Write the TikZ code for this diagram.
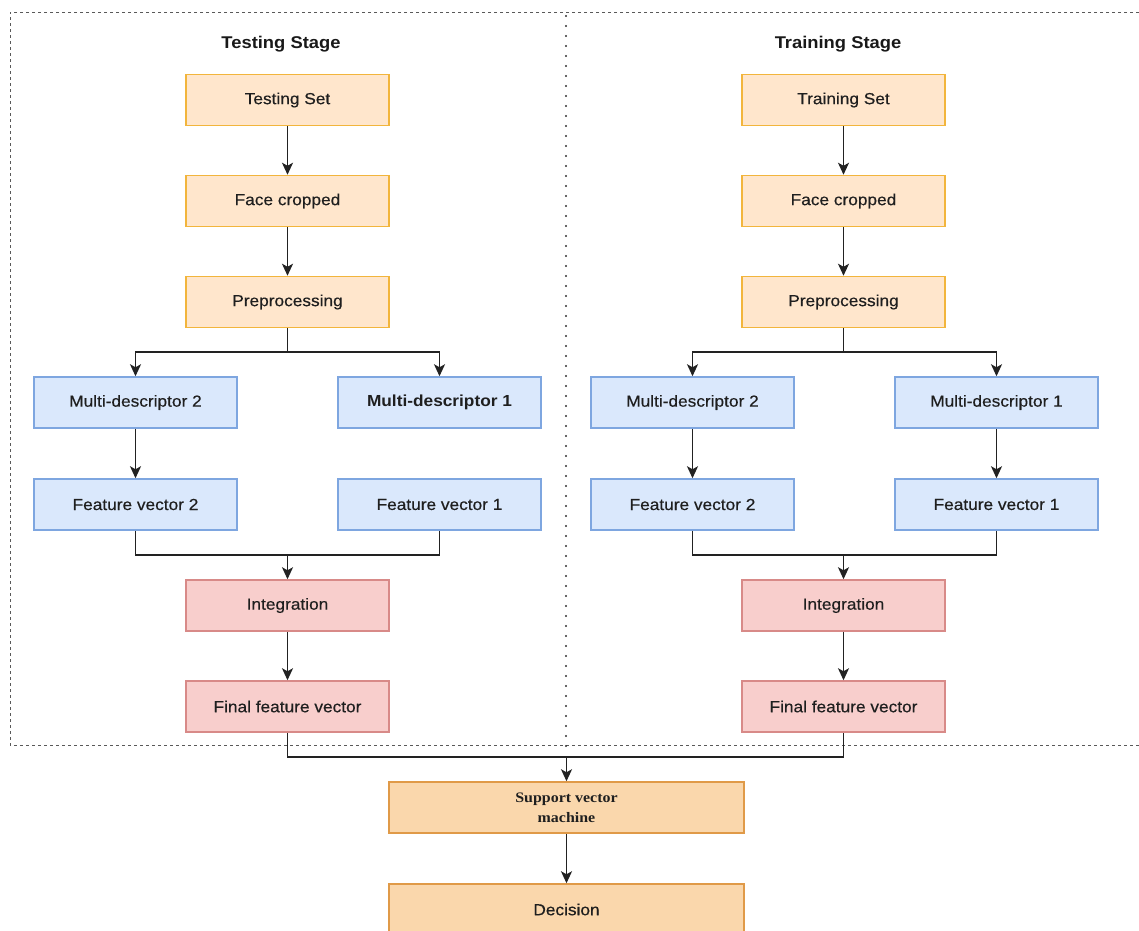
\documentclass[tikz,border=0pt]{standalone}
\usepackage{fontspec}
\setmainfont{Liberation Sans}[FakeStretch=1.08, UprightFeatures={FakeBold=0.4}]
\newfontfamily\svmfont{Liberation Serif}[FakeStretch=1.1]
\usetikzlibrary{arrows.meta}
\definecolor{orfill}{HTML}{FFE6CC}
\definecolor{ordraw}{HTML}{F2B53C}
\definecolor{blfill}{HTML}{DAE8FC}
\definecolor{bldraw}{HTML}{7EA6E0}
\definecolor{rdfill}{HTML}{F8CECC}
\definecolor{rddraw}{HTML}{D88A88}
\definecolor{sgfill}{HTML}{FAD7AC}
\definecolor{sgdraw}{HTML}{E09A48}
\definecolor{ln}{HTML}{222222}
\tikzset{
  box/.style={draw, line width=1.5pt, minimum width=203pt, minimum height=51pt, inner sep=0pt, font=\fontsize{16}{19}\selectfont, text=black!88},
  obox/.style={box, fill=orfill, draw=ordraw},
  bbox/.style={box, fill=blfill, draw=bldraw},
  rbox/.style={box, fill=rdfill, draw=rddraw},
  sbox/.style={box, fill=sgfill, draw=sgdraw, minimum width=355pt},
  conn/.style={draw=ln, line width=1.6pt},
  arr/.style={conn, -{Stealth[length=12pt,width=11pt,inset=3pt]}},
  ttl/.style={font=\fontsize{17}{20}\selectfont\bfseries, text=black!90},
}
\begin{document}
\begin{tikzpicture}[x=1pt,y=-1pt]
\useasboundingbox (0,0) rectangle (1139,930);
% frame
\draw[gray!70!black, line width=0.9pt, dash pattern=on 3pt off 3pt] (1145,12) -- (10,12) -- (10,745) -- (1145,745);
\draw[black!80, line width=2.2pt, line cap=round, dash pattern=on 0pt off 10pt] (566,16) -- (566,748);
% titles
\node[ttl] (tt) at (281,44) {Testing Stage};
\node[ttl] (tr) at (838,44) {Training Stage};
% left column
\node[obox] (setL) at (287.5,100) {Testing Set};
\node[obox] (faceL) at (287.5,201) {Face cropped};
\node[obox] (preL) at (287.5,302) {Preprocessing};
\node[bbox] (md2L) at (135.5,402.5) {Multi-descriptor 2};
\node[bbox, font=\fontsize{16}{19}\selectfont\bfseries] (md1L) at (439.5,402.5) {Multi-descriptor 1};
\node[bbox] (fv2L) at (135.5,504.5) {Feature vector 2};
\node[bbox] (fv1L) at (439.5,504.5) {Feature vector 1};
\node[rbox] (intL) at (287.5,605.5) {Integration};
\node[rbox] (finL) at (287.5,706.5) {Final feature vector};
% right column
\node[obox] (setR) at (843.5,100) {Training Set};
\node[obox] (faceR) at (843.5,201) {Face cropped};
\node[obox] (preR) at (843.5,302) {Preprocessing};
\node[bbox] (md2R) at (692.5,402.5) {Multi-descriptor 2};
\node[bbox] (md1R) at (996.5,402.5) {Multi-descriptor 1};
\node[bbox] (fv2R) at (692.5,504.5) {Feature vector 2};
\node[bbox] (fv1R) at (996.5,504.5) {Feature vector 1};
\node[rbox] (intR) at (843.5,605.5) {Integration};
\node[rbox] (finR) at (843.5,706.5) {Final feature vector};
% bottom
\node[sbox, align=center, font=\fontsize{14.5}{20}\selectfont\svmfont\bfseries] (svm) at (566.5,807.5) {Support vector\\machine};
\node[sbox] (dec) at (566.5,909.5) {Decision};
% coordinates
\coordinate (bL) at (287.5,352);
\coordinate (mL) at (287.5,555);
\coordinate (bR) at (843.5,352);
\coordinate (mR) at (843.5,555);
\coordinate (fm) at (566.5,757);
% left connectors
\draw[arr] (setL) -- (faceL);
\draw[arr] (faceL) -- (preL);
\draw[conn] (preL.south) -- (bL);
\draw[arr] (bL) -| (md2L.north);
\draw[arr] (bL) -| (md1L.north);
\draw[arr] (md2L) -- (fv2L);
\draw[conn] (fv2L.south) |- (mL) -| (fv1L.south);
\draw[arr] (mL) -- (intL.north);
\draw[arr] (intL) -- (finL);
% right connectors
\draw[arr] (setR) -- (faceR);
\draw[arr] (faceR) -- (preR);
\draw[conn] (preR.south) -- (bR);
\draw[arr] (bR) -| (md2R.north);
\draw[arr] (bR) -| (md1R.north);
\draw[arr] (md2R) -- (fv2R);
\draw[arr] (md1R) -- (fv1R);
\draw[conn] (fv2R.south) |- (mR) -| (fv1R.south);
\draw[arr] (mR) -- (intR.north);
\draw[arr] (intR) -- (finR);
% final
\draw[conn] (finL.south) |- (fm) -| (finR.south);
\draw[arr] (fm) -- (svm.north);
\draw[arr] (svm) -- (dec);
\end{tikzpicture}
\end{document}
